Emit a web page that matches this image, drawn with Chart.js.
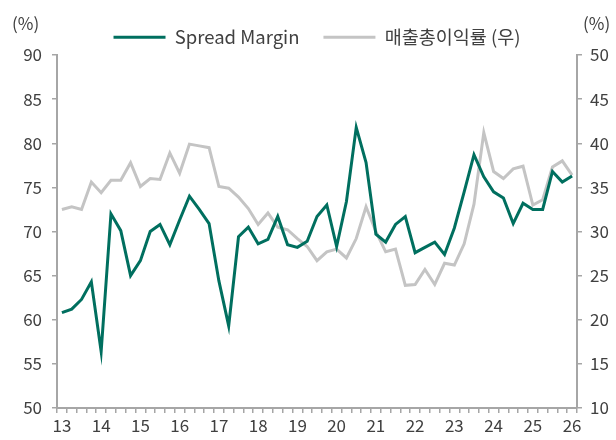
<!DOCTYPE html>
<html>
<head>
<meta charset="utf-8">
<script src="https://cdn.jsdelivr.net/npm/chart.js@4"></script>
<style>
  body { margin: 0; background: #fff; }
  #wrap { width: 616px; height: 440px; position: relative; }
</style>
</head>
<body>
<div id="wrap"><canvas id="chart"></canvas></div>
<script>
// 분기 데이터 1Q13 ~ 1Q26
const years = ["13","14","15","16","17","18","19","20","21","22","23","24","25","26"];
const quarters = [];
for (let i = 0; i < 53; i++) {
  quarters.push(years[Math.floor(i / 4)] + "Q" + (i % 4 + 1));
}

const spreadMargin = [
  60.8, 61.2, 62.3, 64.3, 56.4, 72.0, 70.1, 65.0,
  66.7, 70.0, 70.8, 68.5, 71.3, 74.0, 72.5, 70.9,
  64.4, 59.3, 69.4, 70.5, 68.6, 69.1, 71.7, 68.5,
  68.2, 68.9, 71.7, 73.0, 68.3, 73.4, 81.8, 77.8,
  69.7, 68.8, 70.8, 71.7, 67.6, 68.2, 68.8, 67.4,
  70.4, 74.5, 78.7, 76.2, 74.5, 73.8, 70.9, 73.2,
  72.5, 72.5, 76.8, 75.6, 76.3
];

const grossMargin = [
  32.5, 32.8, 32.5, 35.6, 34.4, 35.8, 35.8, 37.8,
  35.1, 36.0, 35.9, 38.9, 36.6, 39.9, 39.7, 39.5,
  35.1, 34.9, 33.9, 32.6, 30.8, 32.1, 30.5, 30.2,
  29.2, 28.3, 26.7, 27.7, 28.0, 27.0, 29.2, 32.8,
  30.0, 27.7, 28.0, 23.9, 24.0, 25.7, 24.0, 26.4,
  26.2, 28.6, 33.1, 41.2, 36.8, 36.0, 37.1, 37.4,
  33.0, 33.6, 37.3, 38.0, 36.4
];

const leftTicks = [50, 55, 60, 65, 70, 75, 80, 85, 90];
const rightTicks = [10, 15, 20, 25, 30, 35, 40, 45, 50];

const FONT = "'Noto Sans CJK KR', 'Noto Sans', sans-serif";
const AXIS = "#a6a6a6";
const TEXT = "#404040";

const unitLabels = {
  id: "unitLabels",
  afterDraw(chart) {
    const ctx = chart.ctx;
    ctx.save();
    ctx.font = "17px " + FONT;
    ctx.fillStyle = TEXT;
    ctx.textBaseline = "middle";
    ctx.textAlign = "left";
    ctx.fillText("(%)", 12, 24);
    ctx.fillText("(%)", 583, 24);
    ctx.restore();
  }
};

new Chart(document.getElementById("chart"), {
  type: "line",
  data: {
    labels: quarters,
    datasets: [{
      label: "Spread Margin",
      data: spreadMargin,
      yAxisID: "y",
      borderColor: "#006f5f",
      backgroundColor: "#006f5f",
      borderWidth: 3,
      pointRadius: 0,
      tension: 0
    }, {
      label: "매출총이익률 (우)",
      data: grossMargin,
      yAxisID: "y2",
      borderColor: "#c4c4c4",
      backgroundColor: "#c4c4c4",
      borderWidth: 3,
      pointRadius: 0,
      tension: 0
    }]
  },
  options: {
    responsive: true,
    maintainAspectRatio: false,
    animation: false,
    layout: { padding: { top: 4, left: 18, right: 0, bottom: 0 } },
    plugins: {
      tooltip: { enabled: false },
      legend: {
        position: "top",
        maxHeight: 51,
        labels: {
          usePointStyle: true,
          pointStyle: "line",
          pointStyleWidth: 52,
          padding: 24,
          color: TEXT,
          font: { family: FONT, size: 18.5 }
        }
      }
    },
    scales: {
      x: {
        type: "category",
        offset: true,
        afterFit(s) { s.height = 32; },
        grid: {
          offset: true,
          drawOnChartArea: false,
          drawTicks: true,
          tickLength: 5,
          color: AXIS,
          lineWidth: 1.5
        },
        border: { color: AXIS, width: 2 },
        ticks: {
          autoSkip: false,
          maxRotation: 0,
          padding: 2,
          color: TEXT,
          font: { family: FONT, size: 17 },
          callback(v, i) { return i % 4 === 0 ? years[i / 4] : ""; }
        }
      },
      y: {
        position: "left",
        min: 50,
        max: 90,
        afterFit(s) { s.width = 39; },
        afterBuildTicks(s) { s.ticks = leftTicks.map(v => ({ value: v })); },
        grid: { drawOnChartArea: false, tickLength: 5, color: AXIS, lineWidth: 1.5 },
        border: { color: AXIS, width: 2 },
        ticks: { padding: 10, color: TEXT, font: { family: FONT, size: 17 } }
      },
      y2: {
        position: "right",
        min: 10,
        max: 50,
        afterFit(s) { s.width = 39; },
        afterBuildTicks(s) { s.ticks = rightTicks.map(v => ({ value: v })); },
        grid: { drawOnChartArea: false, tickLength: 5, color: AXIS, lineWidth: 1.5 },
        border: { color: AXIS, width: 2 },
        ticks: { padding: 8, color: TEXT, font: { family: FONT, size: 17 } }
      }
    }
  },
  plugins: [unitLabels]
});
</script>
</body>
</html>
